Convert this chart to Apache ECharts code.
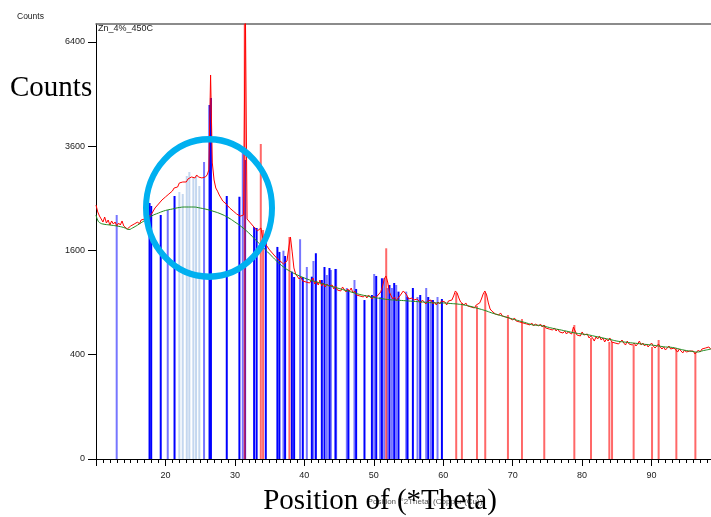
<!DOCTYPE html>
<html>
<head>
<meta charset="utf-8">
<script src="https://cdn.jsdelivr.net/npm/echarts@6/dist/echarts.min.js"></script>
<style>
  html, body { margin: 0; padding: 0; background: #fff; }
  #chart { width: 711px; height: 517px; }
</style>
</head>
<body>
<div id="chart"></div>
<script>
// measured scan: counts on a 0.25 deg grid starting at 10 deg
const scanStart = 10;
const scanStep = 0.25;
const scanCounts = [
  2374, 2246, 2173, 2120, 2067, 2155, 2050, 2102, 2015, 2085, 2032, 2067, 1998, 2050, 2015, 2085, 1998, 1981, 1947, 1930,
  1998, 1964, 2032, 2015, 2067, 2032, 2102, 2067, 2120, 2102, 2155, 2138, 2209, 2264, 2319, 2356, 2393, 2412, 2469, 2450,
  2527, 2507, 2585, 2604, 2643, 2703, 2743, 2723, 2804, 2783, 2824, 2845, 2824, 2886, 2865, 2927, 2948, 2907, 2969, 2927,
  2948, 2907, 2948, 2927, 2969, 3074, 5427, 3225, 2865, 2703, 2640, 2565, 2540, 2450, 2470, 2393, 2400, 2319, 2330, 2264,
  2280, 2210, 2246, 2170, 2200, 2191, 7800, 2120, 2130, 2050, 2040, 1980, 1960, 1915, 1900, 1964, 1798, 1760, 1686, 1670,
  1608, 1578, 1547, 1517, 1488, 1473, 1443, 1414, 1400, 1385, 1443, 1639, 1814, 1578, 1343, 1260, 1233, 1192, 1219, 1166,
  1192, 1153, 1179, 1140, 1166, 1206, 1127, 1166, 1114, 1179, 1101, 1140, 1089, 1127, 1101, 1076, 1114, 1064, 1101, 1051,
  1076, 1039, 1089, 1064, 1027, 1064, 1039, 1076, 1014, 1039, 990, 1014, 978, 1002, 966, 990, 954, 990, 966, 942,
  978, 954, 966, 1002, 1027, 1089, 1192, 1233, 1153, 1027, 978, 942, 966, 919, 954, 978, 1002, 1039, 1051, 990,
  942, 919, 954, 930, 907, 942, 919, 896, 930, 907, 884, 919, 896, 930, 884, 907, 873, 907, 884, 919,
  896, 907, 873, 919, 896, 930, 978, 1039, 1014, 954, 907, 919, 873, 896, 862, 884, 851, 873, 839, 873,
  851, 896, 942, 1002, 1039, 990, 896, 828, 806, 795, 774, 785, 763, 785, 753, 763, 742, 753, 732, 742,
  711, 732, 701, 721, 691, 711, 681, 701, 671, 691, 661, 681, 651, 671, 691, 651, 671, 641, 661, 632,
  651, 622, 641, 612, 632, 603, 622, 594, 612, 584, 603, 575, 594, 612, 575, 641, 603, 566, 584, 557,
  594, 566, 548, 575, 539, 557, 539, 512, 548, 530, 557, 521, 539, 504, 530, 512, 539, 504, 521, 495,
  512, 487, 504, 521, 495, 478, 512, 487, 504, 478, 495, 470, 487, 512, 478, 495, 470, 487, 462, 478,
  495, 470, 453, 470, 487, 462, 445, 462, 437, 453, 470, 445, 429, 453, 437, 421, 445, 429, 414, 437,
  421, 406, 429, 414, 429, 406, 421, 437, 421, 445, 429, 453, 437, 462, 445
];

// fitted background
const bgAngles = [10, 10.3, 10.6, 11, 12, 13, 14, 14.75, 15.25, 16, 17, 18, 19, 20, 21, 22, 23, 24, 25, 26, 27, 28, 29, 30,
  31, 32, 33, 34, 35, 36, 37, 38, 39, 40, 41, 42, 43, 44, 45, 46, 47, 48, 49, 50, 51, 52, 53, 54, 55, 56, 57, 58, 59, 60,
  61, 62, 63, 64, 65, 66, 67, 68, 69, 70, 71, 72, 73, 74, 75, 76, 77, 78, 79, 80, 81, 82, 83, 84, 85, 86, 87, 88, 89, 90,
  91, 92, 93, 94, 95, 96, 96.5, 97.5, 98.6];
const bgCounts = [2191, 2085, 2050, 2032, 2015, 1998, 1972, 1939, 1964, 2015, 2094, 2173, 2227, 2273, 2300, 2328, 2337, 2337, 2318, 2291, 2254, 2209, 2147, 2067,
  1981, 1880, 1765, 1654, 1547, 1443, 1357, 1294, 1246, 1206, 1173, 1147, 1121, 1095, 1070, 1045, 1020, 996, 978, 960, 948, 936, 930, 925, 919, 913, 907, 901, 896, 896,
  890, 884, 873, 856, 834, 812, 785, 763, 742, 721, 701, 681, 661, 656, 641, 625, 612, 598, 584, 575, 566, 552, 539, 526, 512, 504, 497, 491, 484, 478,
  470, 462, 458, 445, 433, 425, 421, 433, 445];

// reference patterns: [angle, height]
const paleSticks = [[22.0, 2624], [22.49, 2585], [23.07, 2948], [23.44, 3031], [24.02, 2907], [24.41, 2948], [24.88, 2743]];
const lightSticks = [[12.98, 2191], [20.33, 2282], [25.56, 3247], [31.14, 3447], [36.99, 1597], [39.39, 1777], [40.36, 1357],
  [41.31, 1443], [43.24, 1246], [43.82, 1315], [44.58, 1329], [46.12, 1076], [47.22, 1179], [50.06, 1260], [50.92, 966],
  [51.5, 1206], [51.97, 1076], [52.61, 1076], [53.23, 1114], [54.67, 1031], [56.3, 966], [57.55, 1076], [58.23, 930], [59.18, 966]];
const darkSticks = [[17.71, 2412], [17.95, 2356], [19.32, 2191], [21.31, 2546], [26.35, 4612], [26.55, 4797], [28.83, 2546],
  [30.65, 2533], [31.47, 3290], [32.77, 1981], [33.13, 1964], [34.45, 1740], [36.12, 1655], [36.41, 1578], [37.23, 1517],
  [38.2, 1292], [38.53, 1219], [39.78, 1219], [41.08, 1223], [41.66, 1558], [42.52, 1179], [42.9, 1357], [43.62, 1343],
  [44.48, 1329], [46.35, 1051], [47.46, 1064], [48.66, 930], [49.73, 990], [50.35, 1233], [51.17, 1202], [52.26, 1114],
  [52.94, 1140], [53.56, 1031], [54.86, 966], [55.63, 1076], [56.69, 990], [57.84, 966], [58.52, 930], [59.81, 942]];
const redSticks = [[31.42, 7800], [33.73, 3650], [34.06, 1930], [37.85, 1814], [51.79, 1634], [61.87, 1014], [62.69, 896],
  [64.86, 862], [66.05, 1014], [69.32, 763], [71.34, 721], [74.55, 661], [78.88, 661], [81.28, 539], [83.92, 504],
  [84.31, 504], [87.42, 478], [90.07, 462], [91.02, 521], [93.57, 453], [96.31, 421]];

const yTicks = [0, 400, 1600, 3600, 6400];

// the counts axis is a square-root scale
const root = v => Math.sqrt(v);

function stickSeries(name, sticks, color, width) {
  return {
    type: 'custom',
    name: name,
    clip: true,
    data: sticks.map(s => [s[0], root(s[1])]),
    encode: { x: 0, y: 1 },
    renderItem: (params, api) => {
      const top = api.coord([api.value(0), api.value(1)]);
      const base = api.coord([api.value(0), 0]);
      return {
        type: 'line',
        shape: { x1: top[0], y1: top[1], x2: base[0], y2: base[1] },
        style: { stroke: color, lineWidth: width }
      };
    }
  };
}

const chart = echarts.init(document.getElementById('chart'));

const scanData = scanCounts.map((c, i) => [scanStart + i * scanStep, root(c)]);
const bgData = bgAngles.map((a, i) => [a, root(bgCounts[i])]);

chart.setOption({
  animation: false,
  grid: { left: 96, width: 625, top: 24, bottom: 58, outerBoundsMode: 'none', containLabel: false },
  xAxis: [
    {
      type: 'value',
      min: 10,
      max: 100,
      interval: 10,
      axisLine: { lineStyle: { color: '#000', width: 1 } },
      axisTick: { length: 7, lineStyle: { color: '#000' } },
      minorTick: { show: true, splitNumber: 10, length: 4, lineStyle: { color: '#000' } },
      splitLine: { show: false },
      axisLabel: {
        margin: 12,
        fontSize: 9,
        fontFamily: 'Liberation Sans',
        color: '#222',
        formatter: v => (v === 10 || v === 100 ? '' : String(v))
      }
    },
    {
      type: 'value',
      position: 'top',
      min: 10,
      max: 100,
      axisLine: { show: true, lineStyle: { color: '#666', width: 1.5 } },
      axisTick: { show: false },
      axisLabel: { show: false },
      splitLine: { show: false }
    }
  ],
  yAxis: {
    type: 'value',
    min: 0,
    max: 83.45,
    interval: 20,
    axisLine: { show: true, lineStyle: { color: '#000', width: 1 } },
    axisTick: { show: true, length: 8, lineStyle: { color: '#000' }, customValues: yTicks.map(root) },
    splitLine: { show: false },
    axisLabel: {
      margin: 11,
      fontSize: 9,
      fontFamily: 'Liberation Sans',
      color: '#222',
      customValues: yTicks.map(root),
      formatter: v => String(Math.round(v * v))
    }
  },
  series: [
    {
      type: 'line',
      name: 'Zn_4%_450C',
      data: scanData,
      showSymbol: false,
      clip: true,
      lineStyle: { color: '#ff0000', width: 1 }
    },
    {
      type: 'line',
      name: 'Background',
      data: bgData,
      smooth: true,
      showSymbol: false,
      lineStyle: { color: '#1f8a1f', width: 1 }
    },
    stickSeries('pattern 3', paleSticks, '#c4d7ef', 2),
    stickSeries('pattern 2', lightSticks, '#7676ff', 2),
    stickSeries('pattern 1', darkSticks, '#0000ff', 2),
    stickSeries('pattern 4', redSticks, 'rgba(255,40,40,0.7)', 2)
  ],
  graphic: [
    { type: 'text', x: 17, y: 17, style: { text: 'Counts', fontSize: 8.5, fontFamily: 'Liberation Sans', fill: '#222', verticalAlign: 'middle' } },
    { type: 'text', x: 98, y: 29, style: { text: 'Zn_4%_450C', fontSize: 9, fontFamily: 'Liberation Sans', fill: '#222', verticalAlign: 'middle' } },
    { type: 'text', x: 10, y: 88, style: { text: 'Counts', fontSize: 29, fontFamily: 'Liberation Serif', fill: '#000', verticalAlign: 'middle' } },
    { type: 'text', x: 425, y: 502, style: { text: 'Position [°2Theta] (Copper (Cu))', fontSize: 8, fontFamily: 'Liberation Sans', fill: '#555', align: 'center', verticalAlign: 'middle' } },
    { type: 'text', x: 380, y: 501, style: { text: 'Position of (*Theta)', fontSize: 29, fontFamily: 'Liberation Serif', fill: '#000', align: 'center', verticalAlign: 'middle' } },
    { type: 'circle', x: 209, y: 208, scaleY: 1.09, shape: { cx: 0, cy: 0, r: 63 }, style: { fill: 'none', stroke: '#00b0f0', lineWidth: 6 }, z: 100 }
  ]
});
</script>
</body>
</html>
